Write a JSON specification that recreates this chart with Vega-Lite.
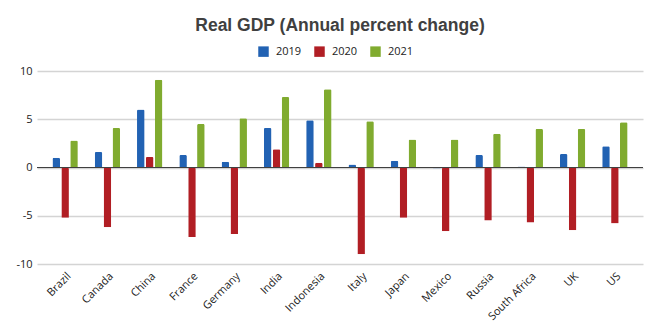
{
  "$schema": "https://vega.github.io/schema/vega-lite/v6.json",
  "width": 606,
  "height": 193,
  "autosize": "none",
  "padding": {"left": 37, "top": 71, "right": 17, "bottom": 62},
  "background": "white",
  "title": {
    "text": "Real GDP (Annual percent change)",
    "font": "Liberation Sans",
    "fontSize": 17.5,
    "fontWeight": "bold",
    "color": "#404040",
    "anchor": "middle",
    "offset": 12
  },
  "config": {
    "view": {"stroke": null},
    "font": "Open Sans"
  },
  "data": {
    "values": [
      {"country": "Brazil", "year": "2019", "value": 1.0},
      {"country": "Brazil", "year": "2020", "value": -5.2},
      {"country": "Brazil", "year": "2021", "value": 2.8},
      {"country": "Canada", "year": "2019", "value": 1.6},
      {"country": "Canada", "year": "2020", "value": -6.2},
      {"country": "Canada", "year": "2021", "value": 4.1},
      {"country": "China", "year": "2019", "value": 6.0},
      {"country": "China", "year": "2020", "value": 1.1},
      {"country": "China", "year": "2021", "value": 9.1},
      {"country": "France", "year": "2019", "value": 1.3},
      {"country": "France", "year": "2020", "value": -7.2},
      {"country": "France", "year": "2021", "value": 4.5},
      {"country": "Germany", "year": "2019", "value": 0.6},
      {"country": "Germany", "year": "2020", "value": -6.9},
      {"country": "Germany", "year": "2021", "value": 5.1},
      {"country": "India", "year": "2019", "value": 4.1},
      {"country": "India", "year": "2020", "value": 1.9},
      {"country": "India", "year": "2021", "value": 7.3},
      {"country": "Indonesia", "year": "2019", "value": 4.9},
      {"country": "Indonesia", "year": "2020", "value": 0.5},
      {"country": "Indonesia", "year": "2021", "value": 8.1},
      {"country": "Italy", "year": "2019", "value": 0.3},
      {"country": "Italy", "year": "2020", "value": -9.0},
      {"country": "Italy", "year": "2021", "value": 4.8},
      {"country": "Japan", "year": "2019", "value": 0.7},
      {"country": "Japan", "year": "2020", "value": -5.2},
      {"country": "Japan", "year": "2021", "value": 2.9},
      {"country": "Mexico", "year": "2019", "value": -0.1},
      {"country": "Mexico", "year": "2020", "value": -6.6},
      {"country": "Mexico", "year": "2021", "value": 2.9},
      {"country": "Russia", "year": "2019", "value": 1.3},
      {"country": "Russia", "year": "2020", "value": -5.5},
      {"country": "Russia", "year": "2021", "value": 3.5},
      {"country": "South Africa", "year": "2019", "value": 0.1},
      {"country": "South Africa", "year": "2020", "value": -5.7},
      {"country": "South Africa", "year": "2021", "value": 4.0},
      {"country": "UK", "year": "2019", "value": 1.4},
      {"country": "UK", "year": "2020", "value": -6.5},
      {"country": "UK", "year": "2021", "value": 4.0},
      {"country": "US", "year": "2019", "value": 2.2},
      {"country": "US", "year": "2020", "value": -5.8},
      {"country": "US", "year": "2021", "value": 4.7}
    ]
  },
  "layer": [
    {
      "mark": {"type": "bar", "cornerRadiusEnd": 1.5},
      "encoding": {
        "x": {
          "field": "country",
          "type": "nominal",
          "sort": null,
          "scale": {"paddingInner": 0.4, "paddingOuter": 0.365},
          "axis": {
            "title": null,
            "labelAngle": -45,
            "labelFontSize": 11,
            "labelColor": "#222222",
            "domain": false,
            "ticks": false,
            "labelPadding": 6
          }
        },
        "xOffset": {"field": "year", "type": "nominal", "scale": {"paddingInner": 0.15}},
        "y": {
          "field": "value",
          "type": "quantitative",
          "scale": {"domain": [-10, 10]},
          "axis": {
            "title": null,
            "values": [-10, -5, 0, 5, 10],
            "labelExpr": "toString(datum.value)",
            "labelFontSize": 11,
            "labelColor": "#222222",
            "domain": false,
            "ticks": false,
            "labelPadding": 5,
            "gridColor": "#d4d4d4",
            "gridWidth": 1.5
          }
        },
        "color": {
          "field": "year",
          "type": "nominal",
          "scale": {"domain": ["2019", "2020", "2021"], "range": ["#2262b3", "#b11e24", "#80ab2f"]},
          "legend": {
            "title": null,
            "orient": "none",
            "direction": "horizontal",
            "legendX": 221,
            "legendY": -25,
            "symbolType": "square",
            "symbolSize": 110,
            "symbolStrokeWidth": 0,
            "labelFontSize": 11,
            "labelColor": "#222222",
            "labelOffset": 7,
            "columnPadding": 12
          }
        }
      }
    },
    {
      "mark": {"type": "rule", "color": "#404040", "strokeWidth": 1.2},
      "encoding": {"y": {"datum": 0}}
    }
  ]
}
